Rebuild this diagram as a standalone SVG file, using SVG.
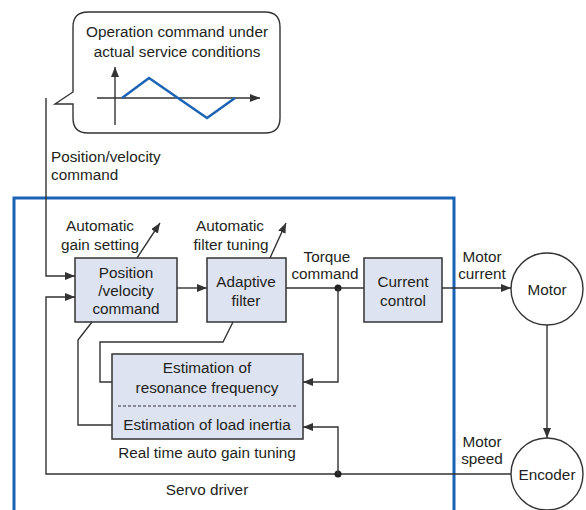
<svg xmlns="http://www.w3.org/2000/svg" width="586" height="510" viewBox="0 0 586 510">
<style>
text{font-family:"Liberation Sans",Arial,sans-serif;font-size:15.3px;fill:#231f20}
.c{text-anchor:middle}
.box{fill:#dde3f1;stroke:#333;stroke-width:1.5}
.ln{fill:none;stroke:#333;stroke-width:1.4}
.arr{fill:none;stroke:#333;stroke-width:1.4;marker-end:url(#ah)}
</style>
<defs>
<marker id="ah" viewBox="0 0 10 8" refX="10" refY="4" markerWidth="10" markerHeight="8" markerUnits="userSpaceOnUse" orient="auto">
<path d="M0,0 L10,4 L0,8 Z" fill="#333"/>
</marker>
</defs>
<rect width="586" height="510" fill="#fff"/>
<g id="servo-driver">
<rect x="14" y="198" width="440" height="330" fill="none" stroke="#1a63b5" stroke-width="3"/>
<text class="c" x="207" y="495">Servo driver</text>
</g>
<g id="callout">
<path d="M88,12 H265 Q280,12 280,27 V118 Q280,133 265,133 H88 Q73,133 73,118 V104 H55 L73,92 V27 Q73,12 88,12 Z" fill="#fff" stroke="#333" stroke-width="1.4"/>
<text class="c" x="177" y="37">Operation command under</text>
<text class="c" x="177" y="57">actual service conditions</text>
<line class="arr" x1="115" y1="125" x2="115" y2="67"/>
<line class="arr" x1="97" y1="98" x2="260" y2="98"/>
<polyline points="122,98 149,78 207,118 235,98" fill="none" stroke="#1a63b5" stroke-width="2.5"/>
</g>
<g id="position-velocity">
<rect class="box" x="75" y="258" width="102" height="64"/>
<text class="c" x="126" y="278">Position</text>
<text class="c" x="126" y="296">/velocity</text>
<text class="c" x="126" y="314">command</text>
</g>
<g id="adaptive-filter">
<rect class="box" x="207" y="258" width="79" height="64"/>
<text class="c" x="246" y="287">Adaptive</text>
<text class="c" x="246" y="306">filter</text>
</g>
<g id="current-control">
<rect class="box" x="364" y="258" width="78" height="64"/>
<text class="c" x="403" y="287">Current</text>
<text class="c" x="403" y="306">control</text>
</g>
<g id="estimation">
<rect class="box" x="112" y="354" width="191" height="85"/>
<line x1="118" y1="406" x2="297" y2="406" stroke="#333" stroke-width="1.2" stroke-dasharray="3,2"/>
<text class="c" x="207" y="373">Estimation of</text>
<text class="c" x="207" y="393">resonance frequency</text>
<text class="c" x="207" y="430">Estimation of load inertia</text>
<text class="c" x="207" y="458">Real time auto gain tuning</text>
</g>
<g id="motor">
<circle cx="547" cy="289" r="36" fill="#fff" stroke="#333" stroke-width="1.4"/>
<text class="c" x="547" y="295">Motor</text>
</g>
<g id="encoder">
<circle cx="547" cy="474" r="36" fill="#fff" stroke="#333" stroke-width="1.4"/>
<text class="c" x="547" y="480">Encoder</text>
</g>
<g id="connectors">
<polyline class="arr" points="46,98 46,276 75,276"/>
<polyline class="arr" points="511,474 46,474 46,297 75,297"/>
<line class="arr" x1="177" y1="288" x2="207" y2="288"/>
<line class="ln" x1="286" y1="288" x2="364" y2="288"/>
<line class="arr" x1="442" y1="288" x2="511" y2="288"/>
<line class="arr" x1="547" y1="325" x2="547" y2="438"/>
<circle cx="338" cy="288" r="3.5" fill="#222"/>
<circle cx="338" cy="474" r="3.5" fill="#222"/>
<polyline class="arr" points="338,288 338,382 303,382"/>
<polyline class="arr" points="338,474 338,427 303,427"/>
<line class="arr" x1="137" y1="258" x2="160" y2="223"/>
<line class="arr" x1="270" y1="258" x2="286" y2="223"/>
<polyline class="ln" points="92,322 78,340 78,425 112,425"/>
<polyline class="ln" points="233,322 223,342 100,342 100,382 112,382"/>
</g>
<g id="labels">
<text x="51" y="162">Position/velocity</text>
<text x="51" y="180">command</text>
<text class="c" x="100" y="231">Automatic</text>
<text class="c" x="100" y="250">gain setting</text>
<text class="c" x="230" y="231">Automatic</text>
<text class="c" x="231" y="250">filter tuning</text>
<text class="c" x="327" y="262">Torque</text>
<text class="c" x="325" y="279">command</text>
<text class="c" x="482" y="262">Motor</text>
<text class="c" x="482" y="279">current</text>
<text class="c" x="482" y="447">Motor</text>
<text class="c" x="482" y="464">speed</text>
</g>
</svg>
